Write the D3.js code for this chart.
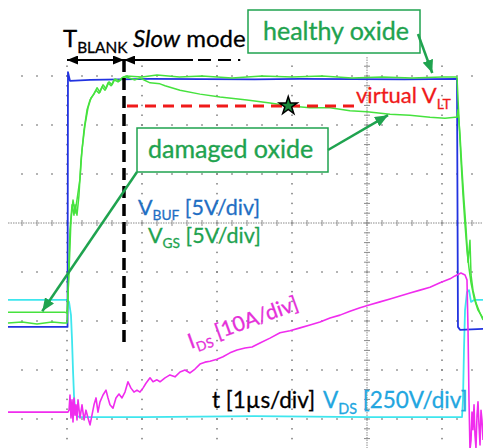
<!DOCTYPE html>
<html>
<head>
<meta charset="utf-8">
<script src="https://cdn.jsdelivr.net/npm/d3@7"></script>
<style>
  body { margin: 0; background: #fff; }
  svg { display: block; }
  text { font-family: Lato, "Open Sans", sans-serif; }
</style>
</head>
<body>
<div id="chart"></div>
<script>
const W = 483, H = 448;

// traces: [time in µs, screen divisions from centre]
let vBuf = [
    [-0.787, -2.12], [0, -2.12], [0.007, -2.12], [0.013, 3.08], [0.04, 2.90], [0.31, 2.92],
    [1.11, 2.94], [2.5, 2.93], [3.11, 2.94], [4.5, 2.93], [5.2, 2.94], [5.213, -2.12],
    [5.24, -2.18], [5.547, -2.16]
];

let vGsHealthy = [
    [-0.787, -2.04], [-0.6, -2.02], [-0.4, -2.06], [-0.2, -2.02], [-0.05, -2.04], [0, -2.04],
    [0.013, -1.57], [0.027, -0.76], [0.04, -0.14], [0.067, 0.37], [0.093, 0.16], [0.107, 0.37],
    [0.133, 0.16], [0.16, 0.57], [0.187, 1.29], [0.227, 1.90], [0.267, 2.31], [0.307, 2.51],
    [0.347, 2.61], [0.387, 2.71], [0.427, 2.65], [0.467, 2.78], [0.507, 2.71], [0.547, 2.86],
    [0.587, 2.80], [0.627, 2.92], [0.68, 2.88], [0.733, 2.96], [0.787, 3.0], [1.0, 2.98],
    [1.2, 3.02], [1.5, 2.98], [1.8, 3.0], [2.2, 2.96], [2.6, 3.0], [3.0, 2.98], [3.4, 3.0],
    [3.8, 2.96], [4.2, 2.98], [4.6, 2.96], [5.0, 2.98], [5.2, 2.98], [5.227, 2.10],
    [5.253, 1.29], [5.28, 0.57], [5.307, -0.04], [5.333, -0.55], [5.36, -0.92], [5.387, -1.22],
    [5.427, -1.53], [5.48, -1.78], [5.547, -1.94]
];

let vGsDamaged = [
    [-0.787, -1.82], [-0.03, -1.82], [0, -1.84], [0.027, -1.0], [0.053, 0.06], [0.08, 0.47],
    [0.107, 0.2], [0.133, 0.47], [0.173, 0.9], [0.2, 1.49], [0.24, 2.0], [0.28, 2.35],
    [0.32, 2.55], [0.36, 2.63], [0.4, 2.76], [0.44, 2.67], [0.48, 2.82], [0.52, 2.74],
    [0.56, 2.88], [0.6, 2.82], [0.64, 2.94], [0.7, 2.90], [0.75, 2.98], [0.787, 2.98],
    [0.907, 2.92], [0.973, 2.96], [1.107, 2.86], [1.24, 2.84], [1.307, 2.80], [1.507, 2.71],
    [1.773, 2.63], [2.04, 2.57], [2.4, 2.51], [2.707, 2.45], [2.973, 2.39], [3.24, 2.35],
    [3.507, 2.35], [3.773, 2.29], [4.0, 2.27], [4.307, 2.22], [4.573, 2.20], [4.84, 2.16],
    [5.04, 2.14], [5.173, 2.16], [5.2, 2.16], [5.213, 2.31], [5.24, 1.80], [5.267, 1.08],
    [5.293, 0.47], [5.32, -0.10], [5.347, -0.80], [5.373, -0.35], [5.387, -1.06],
    [5.413, -1.37], [5.453, -1.63], [5.507, -1.84], [5.547, -1.98]
];

let vDs = [
    [-0.787, -1.57], [0, -1.57], [0.027, -1.61], [0.053, -1.88], [0.067, -2.39], [0.08, -3.0],
    [0.093, -3.51], [0.107, -3.82], [0.133, -3.94], [0.173, -3.96], [1.0, -3.96], [2.5, -3.94],
    [4.0, -3.96], [5.267, -3.96], [5.28, -3.61], [5.293, -2.59], [5.307, -1.78], [5.333, -1.41],
    [5.36, -1.37], [5.387, -1.61], [5.427, -1.57], [5.547, -1.57]
];

let iDs = [
    [-0.787, -3.86], [0.013, -3.86], [0.027, -3.82], [0.04, -3.51], [0.053, -3.98], [0.067, -3.61],
    [0.08, -4.06], [0.093, -3.57], [0.107, -3.92], [0.12, -3.71], [0.133, -4.02], [0.147, -3.61],
    [0.173, -3.98], [0.2, -3.71], [0.227, -4.02], [0.253, -3.82], [0.28, -3.98], [0.307, -4.12],
    [0.333, -3.92], [0.36, -3.71], [0.387, -3.57], [0.413, -3.86], [0.44, -3.65], [0.48, -3.51],
    [0.52, -3.41], [0.547, -3.57], [0.573, -3.71], [0.613, -3.78], [0.653, -3.57], [0.693, -3.49],
    [0.733, -3.57], [0.773, -3.45], [0.813, -3.24], [0.853, -3.37], [0.893, -3.45], [0.933, -3.41],
    [0.973, -3.45], [1.013, -3.37], [1.053, -3.27], [1.107, -3.16], [1.147, -3.24], [1.2, -3.20],
    [1.24, -3.24], [1.307, -3.16], [1.373, -3.10], [1.44, -3.14], [1.507, -3.04], [1.573, -3.0],
    [1.64, -3.06], [1.707, -2.98], [1.773, -2.88], [1.84, -2.84], [1.907, -2.82], [2.0, -2.78],
    [2.08, -2.73], [2.173, -2.65], [2.267, -2.59], [2.373, -2.55], [2.467, -2.53], [2.573, -2.45],
    [2.707, -2.35], [2.84, -2.24], [2.973, -2.20], [3.107, -2.14], [3.24, -2.08], [3.373, -2.02],
    [3.507, -1.94], [3.64, -1.88], [3.773, -1.80], [3.907, -1.73], [4.04, -1.67], [4.173, -1.61],
    [4.307, -1.55], [4.44, -1.49], [4.573, -1.43], [4.707, -1.37], [4.84, -1.31], [4.973, -1.22],
    [5.107, -1.14], [5.173, -1.08], [5.253, -1.02], [5.307, -1.06], [5.333, -1.16], [5.347, -2.18],
    [5.36, -3.61], [5.373, -4.63], [5.387, -4.43], [5.4, -3.86], [5.413, -4.22], [5.427, -3.71],
    [5.44, -4.33], [5.453, -4.59], [5.467, -3.92], [5.48, -3.65], [5.493, -4.12], [5.507, -4.53],
    [5.52, -3.82], [5.533, -4.02], [5.547, -4.43]
];

// grid
let majorT = [0, 1, 2, 3, 4, 5],
    majorDiv = [-4, -3, -2, -1, 0, 1, 2, 3],
    centreT = 4,
    centreDiv = 0;

// markers
let tBlankEnd = 0.76,     // end of blanking time, µs
    slowSolidEnd = 1.68,
    slowDashEnd = 2.31,
    vLT = 2.39,           // virtual V_LT level, div
    vLTEnd = 3.84,
    starT = 2.95;

let colors = {
    buf: "#2233e0", gs: "#46e23e", ds: "#3ee6ee", id: "#f02cee",
    note: "#1fa34f", bufText: "#1f6fc4", dsText: "#22a6e0", idText: "#e52fd9", red: "#f01a1a"
};

let svg = d3.select("#chart").append("svg")
    .attr("width", W)
    .attr("height", H)
    .attr("viewBox", `0 0 ${W} ${H}`);

let x = d3.scaleLinear().domain([0, 1]).range([67, 142]),
    y = d3.scaleLinear().domain([0, 1]).range([223, 174]);

let tMin = x.invert(20), tMax = x.invert(W),
    dTop = y.invert(57), dBot = y.invert(H);

// dotted graticule
let grid = svg.append("g").attr("fill", "#7a7a7a");
majorDiv.filter(d => d !== centreDiv).forEach(d => {
    grid.selectAll(null)
        .data(d3.range(Math.ceil(tMin / 0.2), Math.floor(tMax / 0.2) + 1).map(k => k * 0.2))
        .join("rect")
        .attr("x", t => x(t) - 0.75).attr("y", y(d) - 0.75)
        .attr("width", 1.5).attr("height", 1.5);
});
majorT.filter(t => t !== centreT).forEach(t => {
    grid.selectAll(null)
        .data(d3.range(Math.ceil(dBot / 0.2), Math.floor(dTop / 0.2) + 1).map(k => k * 0.2))
        .join("rect")
        .attr("x", x(t) - 0.75).attr("y", d => y(d) - 0.75)
        .attr("width", 1.5).attr("height", 1.5);
});

// centre axes with minor ticks
let axes = svg.append("g").attr("stroke", "#8a8a8a");
axes.append("line")
    .attr("x1", 8).attr("x2", W)
    .attr("y1", y(centreDiv)).attr("y2", y(centreDiv))
    .attr("stroke-dasharray", "1.5,1");
axes.selectAll(null)
    .data(d3.range(Math.ceil(x.invert(8) / 0.2), Math.floor(tMax / 0.2) + 1).map(k => k * 0.2))
    .join("line")
    .attr("x1", t => x(t)).attr("x2", t => x(t))
    .attr("y1", y(centreDiv) - 3).attr("y2", y(centreDiv) + 3);
axes.append("line")
    .attr("x1", x(centreT)).attr("x2", x(centreT))
    .attr("y1", 57).attr("y2", H)
    .attr("stroke-dasharray", "1.5,1");
axes.selectAll(null)
    .data(d3.range(Math.ceil(dBot / 0.2), Math.floor(dTop / 0.2) + 1).map(k => k * 0.2))
    .join("line")
    .attr("x1", x(centreT) - 3).attr("x2", x(centreT) + 3)
    .attr("y1", d => y(d)).attr("y2", d => y(d));

// traces
let line = d3.line().x(d => x(d[0])).y(d => y(d[1]));
let traces = [
    {data: vDs, color: colors.ds, w: 1.8},
    {data: vBuf, color: colors.buf, w: 1.8},
    {data: vGsHealthy, color: colors.gs, w: 1.5},
    {data: vGsDamaged, color: colors.gs, w: 1.5},
    {data: iDs, color: colors.id, w: 1.6}
];
svg.append("g").selectAll("path")
    .data(traces)
    .join("path")
    .attr("d", d => line(d.data))
    .attr("fill", "none")
    .attr("stroke", d => d.color)
    .attr("stroke-width", d => d.w)
    .attr("stroke-linejoin", "round");

// arrow heads
let defs = svg.append("defs");
function addMarker(id, color, len, wid) {
    defs.append("marker")
        .attr("id", id)
        .attr("viewBox", `0 0 ${len} ${wid}`)
        .attr("refX", len).attr("refY", wid / 2)
        .attr("markerWidth", len).attr("markerHeight", wid)
        .attr("markerUnits", "userSpaceOnUse")
        .attr("orient", "auto-start-reverse")
        .append("path")
        .attr("d", `M0,0L${len},${wid / 2}L0,${wid}Z`)
        .attr("fill", color);
}
addMarker("arrowBlack", "#000", 11, 9);
addMarker("arrowGreen", colors.note, 13, 11);

let notes = svg.append("g");

// blanking marker
notes.append("line")
    .attr("x1", x(tBlankEnd)).attr("x2", x(tBlankEnd))
    .attr("y1", 60).attr("y2", y(-2.55))
    .attr("stroke", "#000").attr("stroke-width", 3.5)
    .attr("stroke-dasharray", "12,6");
notes.append("line")
    .attr("x1", x(0)).attr("x2", x(tBlankEnd))
    .attr("y1", 60).attr("y2", 60)
    .attr("stroke", "#000").attr("stroke-width", 2)
    .attr("marker-start", "url(#arrowBlack)")
    .attr("marker-end", "url(#arrowBlack)");
notes.append("line")
    .attr("x1", x(tBlankEnd)).attr("x2", x(slowSolidEnd))
    .attr("y1", 60).attr("y2", 60)
    .attr("stroke", "#000").attr("stroke-width", 2)
    .attr("marker-start", "url(#arrowBlack)");
notes.append("line")
    .attr("x1", x(slowSolidEnd) + 5).attr("x2", x(slowDashEnd))
    .attr("y1", 60).attr("y2", 60)
    .attr("stroke", "#000").attr("stroke-width", 2)
    .attr("stroke-dasharray", "13,7");

// virtual V_LT
notes.append("line")
    .attr("x1", x(tBlankEnd) + 3).attr("x2", x(vLTEnd))
    .attr("y1", y(vLT)).attr("y2", y(vLT))
    .attr("stroke", colors.red).attr("stroke-width", 3)
    .attr("stroke-dasharray", "11,7");
notes.append("path")
    .attr("transform", `translate(${x(starT)},${y(vLT)})`)
    .attr("d", d3.symbol(d3.symbolStar, 100))
    .attr("fill", "#1b8a3c").attr("stroke", "#000").attr("stroke-width", 1.5);

// callout boxes
function callout(bx, by, bw, bh, label, tx, ty) {
    notes.append("rect")
        .attr("x", bx).attr("y", by).attr("width", bw).attr("height", bh)
        .attr("fill", "#fff").attr("stroke", colors.note).attr("stroke-width", 1.5);
    notes.append("text")
        .attr("x", tx).attr("y", ty)
        .attr("fill", colors.note).attr("font-size", 25)
        .attr("stroke", colors.note).attr("stroke-width", 0.35)
        .text(label);
}
function arrow(x1, y1, x2, y2) {
    notes.append("line")
        .attr("x1", x1).attr("y1", y1).attr("x2", x2).attr("y2", y2)
        .attr("stroke", colors.note).attr("stroke-width", 2.5)
        .attr("marker-end", "url(#arrowGreen)");
}
callout(248, 10, 172, 43, "healthy oxide", 263, 40);
arrow(418, 34, x(4.87), y(2.98) - 4);
callout(137, 128, 191, 44, "damaged oxide", 148, 158);
arrow(328, 150, x(4.28), y(2.2));
arrow(137, 172, x(-0.33), y(-1.82) - 1);

// labels with subscripts
function label(x0, y0, parts, color, size, angle) {
    let t = notes.append("text")
        .attr("x", x0).attr("y", y0)
        .attr("fill", color).attr("font-size", size)
        .attr("stroke", color).attr("stroke-width", 0.3);
    if (angle) t.attr("transform", `rotate(${angle},${x0},${y0})`);
    let shift = 0;
    parts.forEach(p => {
        let s = t.append("tspan").text(p.t);
        let want = p.sub ? size * 0.25 : 0;
        if (want !== shift) s.attr("dy", want - shift);
        shift = want;
        if (p.sub) s.attr("font-size", size * 0.64);
        if (p.it) s.attr("font-style", "italic");
    });
}
label(63, 47, [{t: "T"}, {t: "BLANK", sub: true}], "#000", 24);
label(133, 47, [{t: "Slow", it: true}, {t: " mode"}], "#000", 24);
label(356, 103, [{t: "virtual V"}, {t: "LT", sub: true}], colors.red, 22);
label(138, 215, [{t: "V"}, {t: "BUF", sub: true}, {t: " [5V/div]"}], colors.bufText, 21.5);
label(148, 243, [{t: "V"}, {t: "GS", sub: true}, {t: " [5V/div]"}], colors.note, 21.5);
label(191, 349, [{t: "I"}, {t: "DS", sub: true}, {t: " [10A/div]"}], colors.idText, 21, -20);
label(212, 408, [{t: "t [1µs/div]"}], "#000", 22.5);
label(323, 408, [{t: "V"}, {t: "DS", sub: true}, {t: " [250V/div]"}], colors.dsText, 22.5);
</script>
</body>
</html>
